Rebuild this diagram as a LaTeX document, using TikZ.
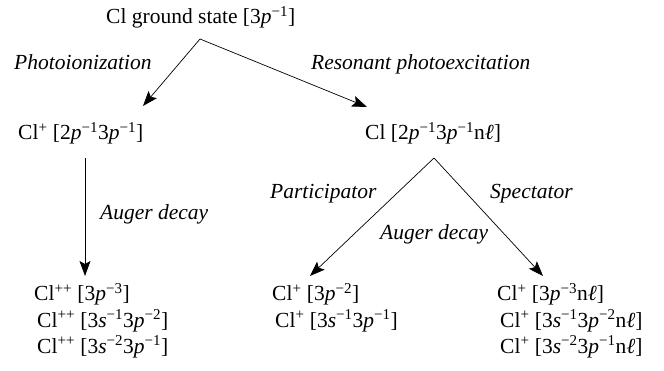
\documentclass[tikz,border=0pt]{standalone}
\usepackage{fontspec}
\setmainfont{Liberation Serif}[ItalicFont={Liberation Serif Italic}]
\usetikzlibrary{arrows.meta}
\newcommand{\ex}[1]{\textsuperscript{#1}}
\newcommand{\ip}{\textit{p}}
\newcommand{\is}{\textit{s}}
\begin{document}
\begin{tikzpicture}[x=1pt,y=-1pt,
  txt/.style={anchor=base west,inner sep=0pt,font=\fontsize{21.5}{25}\selectfont},
  lab/.style={txt,font=\fontsize{21.5}{25}\selectfont\itshape},
  arr/.style={line width=0.7pt,-{Stealth[length=15pt,width=11pt,inset=3pt]}}]
\useasboundingbox (0,0) rectangle (664,371);
\node[txt] (gs) at (106,24) {Cl ground state [3\ip\ex{−1}]};
\coordinate (a1) at (200,39);
\coordinate (t1) at (143,106);
\coordinate (t2) at (367,107);
\node[lab] (photo) at (14,70) {Photoionization};
\node[lab] (reso) at (311,70) {Resonant photoexcitation};
\node[txt] (clp) at (18,140) {Cl\ex{+} [2\ip\ex{−1}3\ip\ex{−1}]};
\node[txt] (cl) at (365,140) {Cl [2\ip\ex{−1}3\ip\ex{−1}n\textit{ℓ}]};
\coordinate (v1) at (85,158);
\coordinate (v2) at (85,276);
\node[lab] (aug1) at (100,220) {Auger decay};
\coordinate (a2) at (434,158);
\coordinate (t3) at (310,276);
\coordinate (t4) at (543,276);
\node[lab] (part) at (270,199) {Participator};
\node[lab] (spec) at (490,199) {Spectator};
\node[lab] (aug2) at (380,240) {Auger decay};
\node[txt] (b1) at (34,301) {Cl\ex{++} [3\ip\ex{−3}]};
\node[txt] (b2) at (37,327) {Cl\ex{++} [3\is\ex{−1}3\ip\ex{−2}]};
\node[txt] (b3) at (37,353) {Cl\ex{++} [3\is\ex{−2}3\ip\ex{−1}]};
\node[txt] (m1) at (272,301) {Cl\ex{+} [3\ip\ex{−2}]};
\node[txt] (m2) at (275,327) {Cl\ex{+} [3\is\ex{−1}3\ip\ex{−1}]};
\node[txt] (r1) at (497,301) {Cl\ex{+} [3\ip\ex{−3}n\textit{ℓ}]};
\node[txt] (r2) at (500,327) {Cl\ex{+} [3\is\ex{−1}3\ip\ex{−2}n\textit{ℓ}]};
\node[txt] (r3) at (500,353) {Cl\ex{+} [3\is\ex{−2}3\ip\ex{−1}n\textit{ℓ}]};
\draw[arr] (a1) -- (t1);
\draw[arr] (a1) -- (t2);
\draw[arr] (v1) -- (v2);
\draw[arr] (a2) -- (t3);
\draw[arr] (a2) -- (t4);
\end{tikzpicture}
\end{document}
